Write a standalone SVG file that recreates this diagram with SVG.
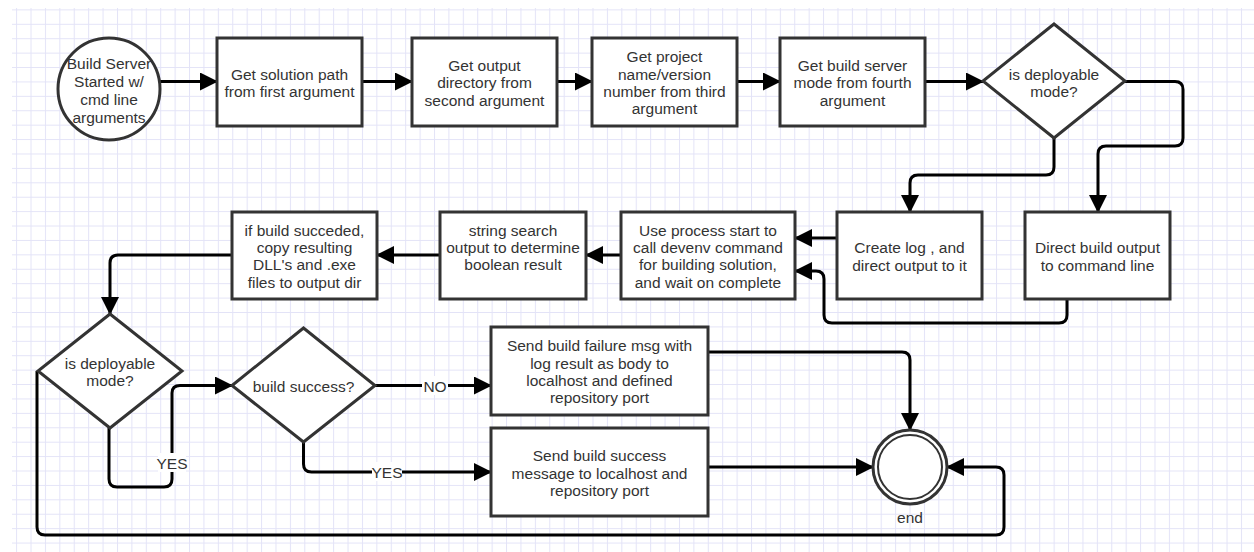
<svg xmlns="http://www.w3.org/2000/svg" width="1254" height="552" viewBox="0 0 1254 552">
<style>
.n{fill:#fff;stroke:#333;stroke-width:3}
.t{font-family:"Liberation Sans",Arial,sans-serif;font-size:15.5px;fill:#333;text-anchor:middle;dominant-baseline:central}
.c{fill:none;stroke:#000;stroke-width:3;stroke-linejoin:round}
.a{marker-end:url(#ah)}
.lb{fill:#fff}
</style>
<defs>
<pattern id="grid" patternUnits="userSpaceOnUse" x="1.7" y="9.4" width="14.41" height="14.41">
<path d="M0,0.5 H14.41 M0.5,0 V14.41" fill="none" stroke="#e3e3f7" stroke-width="1"/>
</pattern>
<marker id="ah" markerUnits="userSpaceOnUse" viewBox="0 0 18 18" markerWidth="18" markerHeight="18" refX="17" refY="9" orient="auto">
<path d="M0,0 L18,9 L0,18 z" fill="#000"/>
</marker>
</defs>
<rect width="1254" height="552" fill="#fff"/>
<rect x="12" y="8" width="1242" height="544" fill="url(#grid)"/>

<g id="connectors">
<path class="c a" d="M159.5,81.5 L217,81.5"/>
<path class="c a" d="M362,81.5 L412,81.5"/>
<path class="c a" d="M557,81.5 L592,81.5"/>
<path class="c a" d="M737,81.5 L780,81.5"/>
<path class="c a" d="M925,81.5 L983,81.5"/>
<path class="c a" d="M1054,138 L1054,167 Q1054,175 1046,175 L918,175 Q910,175 910,183 L910,212"/>
<path class="c a" d="M1125,81.5 L1175,81.5 Q1183,81.5 1183,89.5 L1183,138 Q1183,146 1175,146 L1106,146 Q1098,146 1098,154 L1098,212"/>
<path class="c a" d="M837,238 L795,238"/>
<path class="c a" d="M1067,299 L1067,315 Q1067,323 1059,323 L832,323 Q824,323 824,315 L824,279 Q824,271 816,271 L795,271"/>
<path class="c a" d="M621,255 L586,255"/>
<path class="c a" d="M440,255 L377,255"/>
<path class="c a" d="M232,255 L118,255 Q110,255 110,263 L110,314"/>
<path class="c a" d="M109,428 L109,479 Q109,487 117,487 L164,487 Q172,487 172,479 L172,393 Q172,385.5 180,385.5 L232,385.5"/>
<path class="c a" d="M375,385.5 L491,385.5"/>
<path class="c a" d="M303.5,442 L303.5,464 Q303.5,472 311.5,472 L491,472"/>
<path class="c a" d="M708,352 L902,352 Q910,352 910,360 L910,430"/>
<path class="c a" d="M708,467 L873,467"/>
<path class="c a" d="M37,371 L37,527 Q37,535 45,535 L996,535 Q1004,535 1004,527 L1004,475 Q1004,467 996,467 L947,467"/>
<rect class="lb" x="158" y="453" width="28" height="19"/>
<text class="t" x="172" y="463">YES</text>
<rect class="lb" x="422" y="376" width="26" height="19"/>
<text class="t" x="435" y="386">NO</text>
<rect class="lb" x="372" y="462" width="30" height="19"/>
<text class="t" x="387" y="472">YES</text>
</g>

<g id="start">
<circle class="n" cx="109" cy="89" r="51"/>
<text class="t" x="109" y="63.3">Build Server</text>
<text class="t" x="109" y="81.3">Started w/</text>
<text class="t" x="109" y="99.3">cmd line</text>
<text class="t" x="109" y="117">arguments</text>
</g>

<g id="getSolution">
<rect class="n" x="217" y="38" width="145" height="88"/>
<text class="t" x="289.5" y="74">Get solution path</text>
<text class="t" x="289.5" y="91.7">from first argument</text>
</g>

<g id="getOutput">
<rect class="n" x="412" y="38" width="145" height="88"/>
<text class="t" x="484.5" y="65">Get output</text>
<text class="t" x="484.5" y="82.3">directory from</text>
<text class="t" x="484.5" y="100">second argument</text>
</g>

<g id="getProject">
<rect class="n" x="592" y="38" width="145" height="88"/>
<text class="t" x="664.5" y="56.7">Get project</text>
<text class="t" x="664.5" y="74">name/version</text>
<text class="t" x="664.5" y="91.3">number from third</text>
<text class="t" x="664.5" y="108.5">argument</text>
</g>

<g id="getMode">
<rect class="n" x="780" y="38" width="145" height="88"/>
<text class="t" x="852.5" y="65">Get build server</text>
<text class="t" x="852.5" y="82.3">mode from fourth</text>
<text class="t" x="852.5" y="100">argument</text>
</g>

<g id="isDeployable1">
<polygon class="n" points="1054,24 1125,81 1054,138 983,81"/>
<text class="t" x="1054" y="74">is deployable</text>
<text class="t" x="1054" y="91">mode?</text>
</g>

<g id="createLog">
<rect class="n" x="837" y="212" width="145" height="87"/>
<text class="t" x="909.5" y="247.3">Create log , and</text>
<text class="t" x="909.5" y="265">direct output to it</text>
</g>

<g id="directBuild">
<rect class="n" x="1025" y="212" width="145" height="87"/>
<text class="t" x="1097.5" y="247.3">Direct build output</text>
<text class="t" x="1097.5" y="265">to command line</text>
</g>

<g id="processStart">
<rect class="n" x="621" y="212" width="174" height="87"/>
<text class="t" x="708" y="230">Use process start to</text>
<text class="t" x="708" y="247.3">call devenv command</text>
<text class="t" x="708" y="264.7">for building solution,</text>
<text class="t" x="708" y="282">and wait on complete</text>
</g>

<g id="stringSearch">
<rect class="n" x="440" y="212" width="146" height="87"/>
<text class="t" x="513" y="230">string search</text>
<text class="t" x="513" y="247.3">output to determine</text>
<text class="t" x="513" y="264.7">boolean result</text>
</g>

<g id="copyFiles">
<rect class="n" x="232" y="212" width="145" height="87"/>
<text class="t" x="304.5" y="230">if build succeded,</text>
<text class="t" x="304.5" y="247.3">copy resulting</text>
<text class="t" x="304.5" y="264.7">DLL's and .exe</text>
<text class="t" x="304.5" y="282">files to output dir</text>
</g>

<g id="isDeployable2">
<polygon class="n" points="110,314 182,371 110,428 38,371"/>
<text class="t" x="110" y="363.3">is deployable</text>
<text class="t" x="110" y="380.7">mode?</text>
</g>

<g id="buildSuccess">
<polygon class="n" points="303.5,328 375,385.5 303.5,442 232,385.5"/>
<text class="t" x="303.5" y="386">build success?</text>
</g>

<g id="sendFailure">
<rect class="n" x="491" y="327" width="217" height="88"/>
<text class="t" x="599.5" y="345.7">Send build failure msg with</text>
<text class="t" x="599.5" y="363">log result as body to</text>
<text class="t" x="599.5" y="380.3">localhost and defined</text>
<text class="t" x="599.5" y="397.7">repository port</text>
</g>

<g id="sendSuccess">
<rect class="n" x="491" y="428" width="217" height="88"/>
<text class="t" x="599.5" y="455.7">Send build success</text>
<text class="t" x="599.5" y="473">message to localhost and</text>
<text class="t" x="599.5" y="490.3">repository port</text>
</g>

<g id="end">
<circle class="n" cx="910" cy="467" r="37" stroke-width="2"/>
<circle cx="910" cy="467" r="32" fill="none" stroke="#333" stroke-width="2"/>
<text class="t" x="910" y="517">end</text>
</g>
</svg>
